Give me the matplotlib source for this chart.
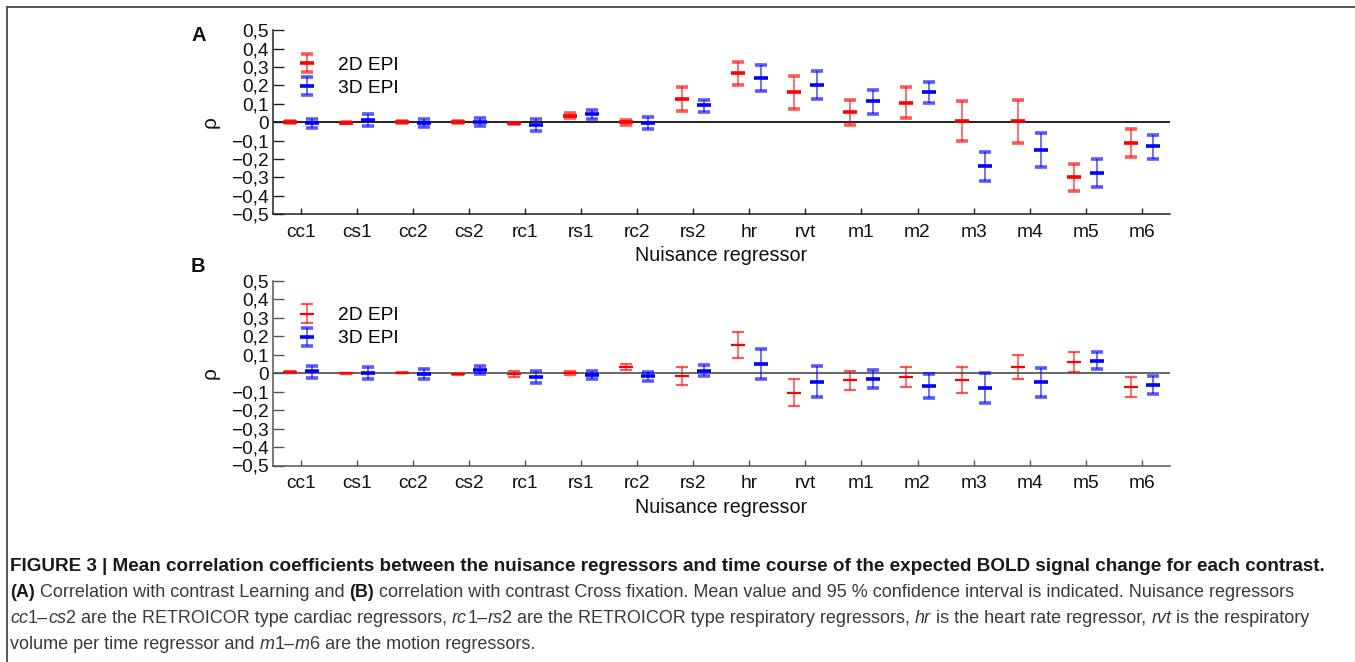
import matplotlib
matplotlib.use("Agg")
import matplotlib.pyplot as plt
from matplotlib.legend_handler import HandlerErrorbar

plt.rcParams['font.family'] = ['Liberation Sans', 'DejaVu Sans']

regressors = ["cc1", "cs1", "cc2", "cs2", "rc1", "rs1", "rc2", "rs2",
              "hr", "rvt", "m1", "m2", "m3", "m4", "m5", "m6"]

# panel A: contrast Learning  (mean, lower CI, upper CI)
a_2d_mean = [0.0, -0.002, 0.0, 0.0, -0.007, 0.036, 0.0, 0.127,
             0.269, 0.163, 0.056, 0.105, 0.009, 0.004, -0.300, -0.113]
a_2d_lo = [-0.004, -0.005, -0.004, -0.004, -0.012, 0.022, -0.014, 0.060,
           0.203, 0.073, -0.013, 0.022, -0.100, -0.116, -0.374, -0.189]
a_2d_hi = [0.004, 0.002, 0.004, 0.004, -0.002, 0.050, 0.014, 0.190,
           0.330, 0.254, 0.123, 0.189, 0.114, 0.122, -0.229, -0.036]
a_3d_mean = [-0.005, 0.011, -0.004, 0.002, -0.013, 0.047, -0.004, 0.091,
             0.243, 0.203, 0.114, 0.163, -0.241, -0.149, -0.276, -0.131]
a_3d_lo = [-0.030, -0.018, -0.025, -0.022, -0.047, 0.020, -0.038, 0.056,
           0.172, 0.125, 0.045, 0.103, -0.321, -0.243, -0.354, -0.198]
a_3d_hi = [0.020, 0.042, 0.016, 0.022, 0.020, 0.069, 0.027, 0.123,
           0.314, 0.278, 0.178, 0.220, -0.163, -0.058, -0.201, -0.067]

# panel B: contrast Cross fixation
b_2d_mean = [0.007, 0.0, 0.002, -0.005, -0.002, 0.004, 0.036, -0.014,
             0.153, -0.106, -0.036, -0.018, -0.034, 0.034, 0.063, -0.074]
b_2d_lo = [0.004, -0.003, -0.001, -0.008, -0.020, -0.009, 0.020, -0.065,
           0.083, -0.179, -0.092, -0.072, -0.106, -0.032, 0.007, -0.128]
b_2d_hi = [0.010, 0.003, 0.005, -0.002, 0.013, 0.014, 0.052, 0.036,
           0.224, -0.032, 0.013, 0.032, 0.034, 0.099, 0.116, -0.023]
b_3d_mean = [0.011, 0.002, -0.004, 0.020, -0.018, -0.007, -0.014, 0.014,
             0.051, -0.045, -0.029, -0.069, -0.078, -0.047, 0.069, -0.063]
b_3d_lo = [-0.025, -0.029, -0.029, -0.005, -0.052, -0.032, -0.040, -0.014,
           -0.032, -0.128, -0.081, -0.134, -0.159, -0.130, 0.022, -0.114]
b_3d_hi = [0.042, 0.032, 0.022, 0.042, 0.013, 0.014, 0.009, 0.043,
           0.134, 0.038, 0.020, -0.004, 0.002, 0.031, 0.114, -0.014]

y_ticks = [-0.5, -0.4, -0.3, -0.2, -0.1, 0, 0.1, 0.2, 0.3, 0.4, 0.5]
series_labels = ["2D EPI", "3D EPI"]

W, H = 1355, 662
fig = plt.figure(figsize=(W / 100, H / 100), dpi=100)
fig.patch.set_facecolor("white")

# thin grey frame at top/left like the journal page
fig.add_artist(plt.Line2D([7.5 / W, 1.0], [1 - 6.5 / H, 1 - 6.5 / H],
                          color="#4a4a4a", lw=1.3, transform=fig.transFigure))
fig.add_artist(plt.Line2D([7.5 / W, 7.5 / W], [0.0, 1 - 6.5 / H],
                          color="#4a4a4a", lw=1.3, transform=fig.transFigure))


def ytick_text(v):
    if v == 0:
        return "0"
    s = "%.1f" % abs(v)
    s = s.replace(".", ",")
    return ("\u2212" + s) if v < 0 else s


def draw_panel(rect, letter, letter_y, m2, lo2, hi2, m3, lo3, hi3, axcol, zerocol, red_lw):
    ax = fig.add_axes(rect)
    xs = list(range(1, len(regressors) + 1))
    x2 = [x - 0.2 for x in xs]
    x3 = [x + 0.2 for x in xs]
    ax.axhline(0, color=zerocol, lw=1.4, zorder=1)
    e2 = ax.errorbar(x2, m2, yerr=[[m - l for m, l in zip(m2, lo2)],
                                   [h - m for m, h in zip(m2, hi2)]],
                     fmt="_", color="#ff0000", ecolor=(1, 0, 0, 0.65),
                     elinewidth=1.2, capsize=4.5, capthick=1.2,
                     markersize=10, markeredgewidth=red_lw, zorder=3)
    e3 = ax.errorbar(x3, m3, yerr=[[m - l for m, l in zip(m3, lo3)],
                                   [h - m for m, h in zip(m3, hi3)]],
                     fmt="_", color="#0000ff", ecolor=(0, 0, 1, 0.65),
                     elinewidth=1.2, capsize=4.5, capthick=1.2,
                     markersize=10, markeredgewidth=2.6, zorder=3)
    ax.set_xlim(0.5, len(regressors) + 0.5)
    ax.set_ylim(-0.5, 0.5)
    ax.set_xticks(xs)
    ax.set_xticklabels(regressors, fontsize=13.8)
    ax.set_yticks(y_ticks)
    ax.set_yticklabels([ytick_text(v) for v in y_ticks], fontsize=13.8)
    ax.tick_params(axis="x", direction="in", length=4, width=1, pad=7, colors=axcol,
                   labelcolor="#111111")
    ax.tick_params(axis="y", direction="in", length=8, width=1, pad=3, colors=axcol,
                   labelcolor="#111111")
    for s in ["top", "right"]:
        ax.spines[s].set_visible(False)
    for s in ["left", "bottom"]:
        ax.spines[s].set_color(axcol)
        ax.spines[s].set_linewidth(1.1)
    ax.set_xlabel("Nuisance regressor", fontsize=14.2, labelpad=4, color="#111111")
    ax.set_ylabel("\u03c1", fontsize=15, labelpad=8, color="#111111")
    ax.legend([e2, e3], series_labels, loc="upper left",
              bbox_to_anchor=(0.028, 0.86), frameon=False, fontsize=13.8,
              handlelength=1.0, handletextpad=1.1, labelspacing=0.3,
              borderpad=0, borderaxespad=0,
              handler_map={type(e2): HandlerErrorbar(xerr_size=0.48)})
    ax.text(-0.083, letter_y, letter, transform=ax.transAxes, fontsize=14.5,
            fontweight="bold", ha="center", va="center", color="#111111")
    return ax


axA = draw_panel([272.8 / W, 1 - 214 / H, 897 / W, 183.6 / H], "A", 0.972,
                 a_2d_mean, a_2d_lo, a_2d_hi, a_3d_mean, a_3d_lo, a_3d_hi,
                 "#222222", "#222222", 2.6)
axB = draw_panel([272.8 / W, 1 - 465.5 / H, 897 / W, 184.5 / H], "B", 1.08,
                 b_2d_mean, b_2d_lo, b_2d_hi, b_3d_mean, b_3d_lo, b_3d_hi,
                 "#555555", "#666666", 1.6)

# caption with mixed bold / italic fragments
caption = [
    [("FIGURE 3 | Mean correlation coefficients between the nuisance regressors and time course "
      "of the expected BOLD signal change for each contrast.", "bold")],
    [("(A)", "bold"), (" Correlation with contrast Learning and ", "normal"), ("(B)", "bold"),
     (" correlation with contrast Cross fixation. Mean value and 95 % confidence interval is "
      "indicated. Nuisance regressors", "normal")],
    [("cc", "italic"), ("1\u2013", "normal"), ("cs", "italic"),
     ("2 are the RETROICOR type cardiac regressors, ", "normal"), ("rc", "italic"),
     ("1\u2013", "normal"), ("rs", "italic"),
     ("2 are the RETROICOR type respiratory regressors, ", "normal"), ("hr", "italic"),
     (" is the heart rate regressor, ", "normal"), ("rvt", "italic"),
     (" is the respiratory", "normal")],
    [("volume per time regressor and ", "normal"), ("m", "italic"), ("1\u2013", "normal"),
     ("m", "italic"), ("6 are the motion regressors.", "normal")],
]
renderer = fig.canvas.get_renderer()
line_size = [13.6, 13.0, 13.0, 13.0]
line_y = [571, 597, 623, 649]
for frags, yb, size in zip(caption, line_y, line_size):
    x = 10.0
    for txt, style in frags:
        kw = dict(fontsize=size, va="baseline", ha="left")
        if style == "bold":
            kw.update(fontweight="bold", color="#1a1a1a")
        elif style == "italic":
            kw.update(fontstyle="italic", color="#3a3a3a")
        else:
            kw.update(color="#3a3a3a")
        t = fig.text(x / W, 1 - yb / H, txt, **kw)
        bb = t.get_window_extent(renderer)
        x = bb.x1

fig.savefig("out.png", dpi=100)
